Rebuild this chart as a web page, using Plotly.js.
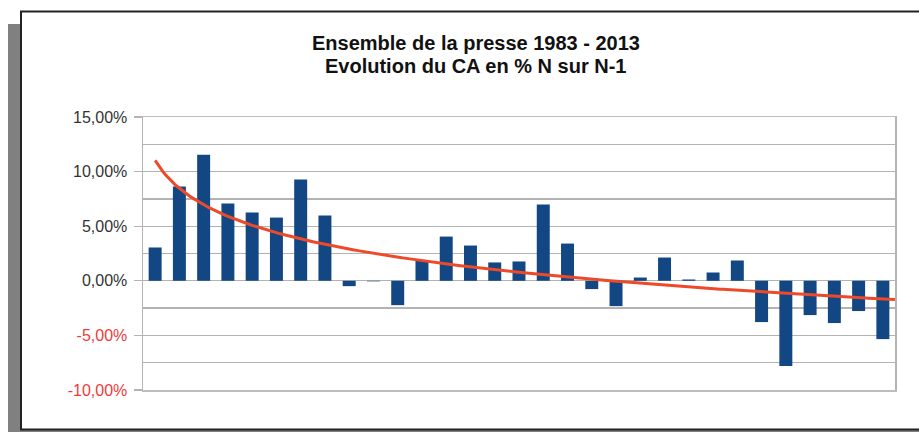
<!DOCTYPE html>
<html>
<head>
<meta charset="utf-8">
<script src="https://cdn.plot.ly/plotly-3.0.1.min.js"></script>
<style>html,body{margin:0;padding:0;background:#fff;}#chart{width:919px;height:432px;}</style>
</head>
<body>
<div id="chart"></div>
<script>
// ---- Data ----
var years = [1983,1984,1985,1986,1987,1988,1989,1990,1991,1992,1993,1994,1995,1996,1997,1998,
             1999,2000,2001,2002,2003,2004,2005,2006,2007,2008,2009,2010,2011,2012,2013];
var growthPct = [3.05,8.63,11.55,7.07,6.25,5.79,9.27,5.98,-0.49,-0.05,-2.23,1.89,4.05,3.23,1.68,1.77,
                 6.98,3.41,-0.76,-2.32,0.30,2.13,0.12,0.76,1.86,-3.78,-7.80,-3.14,-3.87,-2.77,-5.34];
var tickValues = [-10,-5,0,5,10,15];
var tickLabels = ['-10,00%','-5,00%','0,00%','5,00%','10,00%','15,00%'];
var titleLines = ['Ensemble de la presse 1983 - 2013','Evolution du CA en % N sur N-1'];

// ---- Logarithmic trend line (least squares fit of value on ln(index), as in the spreadsheet) ----
var n = growthPct.length, sx = 0, sy = 0, sxx = 0, sxy = 0;
for (var i = 0; i < n; i++) {
  var lx = Math.log(i + 1);
  sx += lx; sy += growthPct[i]; sxx += lx * lx; sxy += lx * growthPct[i];
}
var slope = (n * sxy - sx * sy) / (n * sxx - sx * sx);
var intercept = (sy - slope * sx) / n;
var trendX = [], trendY = [];
for (var t = 1; t <= n + 0.5 + 1e-9; t += 0.1) {
  trendX.push(years[0] - 1 + t);
  trendY.push(intercept + slope * Math.log(t));
}

// ---- Layout helpers (pixel -> paper) ----
var W = 919, H = 432, ML = 143, MR = 24, MT = 117, MB = 42;
var PW = W - ML - MR, PH = H - MT - MB;
function px(x){ return (x - ML) / PW; }
function py(y){ return (H - MB - y) / PH; }

var negColor = '#ee3b3b', posColor = '#333333';
var ticktext = tickLabels.map(function(s, k){
  return '<span style="color:' + (tickValues[k] < 0 ? negColor : posColor) + '">' + s + '</span>';
});

var traces = [
  {type:'bar', x: years, y: growthPct, marker:{color:'#134783'}, hoverinfo:'skip'},
  {type:'scatter', mode:'lines', x: trendX, y: trendY, line:{color:'#ee4a2a', width:3}, hoverinfo:'skip'}
];

var layout = {
  width: W, height: H,
  margin: {l: ML, r: MR, t: MT, b: MB, pad: 0},
  paper_bgcolor: '#ffffff', plot_bgcolor: '#ffffff',
  showlegend: false,
  bargap: 0.465,
  font: {family: 'Liberation Sans, Arial, sans-serif', color: '#333'},
  xaxis: {
    range: [years[0] - 0.5, years[n - 1] + 0.5],
    showticklabels: false, ticks: '', showgrid: false, zeroline: false,
    showline: true, linecolor: '#bdbdbd', linewidth: 1.5, mirror: true, fixedrange: true
  },
  yaxis: {
    range: [-10, 15],
    tickmode: 'array', tickvals: tickValues, ticktext: ticktext,
    ticks: 'outside', ticklen: 8, tickcolor: '#b3b3b3', tickwidth: 1.3,
    tickfont: {size: 16, color: posColor, family: 'Liberation Sans, Arial, sans-serif'},
    ticklabelstandoff: 3,
    showgrid: true, gridcolor: '#b3b3b3', gridwidth: 1.3,
    minor: {dtick: 2.5, tick0: 0, showgrid: true, gridcolor: '#b3b3b3', gridwidth: 1.3, ticks: ''},
    zeroline: false,
    showline: true, linecolor: '#b3b3b3', linewidth: 1.5, mirror: true, fixedrange: true
  },
  shapes: [
    {type:'rect', xref:'paper', yref:'paper', layer:'below',
     x0: px(8), x1: px(960), y0: py(24), y1: py(460),
     fillcolor:'#808080', line:{width:0}},
    {type:'rect', xref:'paper', yref:'paper', layer:'below',
     x0: px(21), x1: px(960), y0: py(11.5), y1: py(429.5),
     fillcolor:'#ffffff', line:{color:'#222222', width:2}}
  ],
  annotations: [
    {xref:'paper', yref:'paper', x: px(475.5), y: py(43), xanchor:'center', yanchor:'middle',
     text: '<b>' + titleLines[0] + '</b>', showarrow:false,
     font:{size: 20, color:'#111', family:'Liberation Sans, Arial, sans-serif'}},
    {xref:'paper', yref:'paper', x: px(475.5), y: py(65.5), xanchor:'center', yanchor:'middle',
     text: '<b>' + titleLines[1] + '</b>', showarrow:false,
     font:{size: 20, color:'#111', family:'Liberation Sans, Arial, sans-serif'}}
  ]
};

Plotly.newPlot('chart', traces, layout, {staticPlot: true, displayModeBar: false});
</script>
</body>
</html>
